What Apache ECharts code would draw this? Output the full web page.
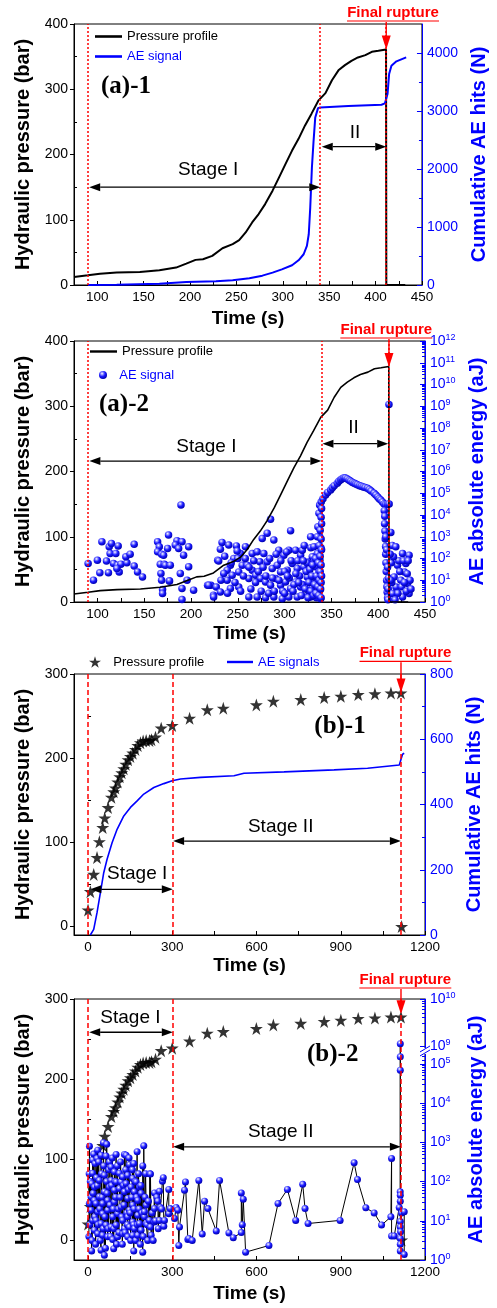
<!DOCTYPE html>
<html><head><meta charset="utf-8">
<script src="https://cdn.jsdelivr.net/npm/echarts@6/dist/echarts.min.js"></script>
<style>html,body{margin:0;padding:0;background:#fff}#c{width:497px;height:1308px}</style>
</head><body><div id="c"></div><script>
// ---------- DATA ----------
// (a) pressure profile [time s, bar]
const pressureA = [[75,12.3],[90,14.9],[103,17.4],[121,19],[146,20],[167,22.6],[185,26.7],[196,32.8],[206,38.5],[214,39.5],[224,44.6],[235,56.4],[246,62.6],[253,68.7],[260,80.5],[267,95.9],[274,108.7],[281,124],[289,144.6],[296,165],[303,185.6],[310,206],[317,224],[324,244.6],[331,262.6],[338.6,283],[346,294],[353,313.8],[360,329],[367,337],[374,343.6],[381,348.7],[389,352.3],[396,357.4],[403,359],[411.3,361],[411.6,0],[432,0]];
// (a)-1 cumulative AE hits [time s, N]
const aeHitsA = [[90,0],[121,6],[167,23],[196,52],[228,63],[246,80],[264,115],[278,161],[289,213],[299,270],[310,340],[317,426],[322.5,530],[326,673],[328,875],[329.6,1335],[331.4,2026],[333.2,2486],[335,2889],[338,3050],[340.4,3062],[370.7,3085],[406.4,3108],[410,3131],[412.9,3292],[414.6,3637],[417.1,3781],[422.5,3856],[433,3925]];
// (a)-2 AE absolute energy [time s, log10(aJ)]
const aeEnergyA = [[90.1,1.77],[95.8,1.00],[100,1.92],[102.6,1.34],[104.8,2.77],[109.7,1.88],[111.8,1.34],[112.6,2.54],[115,2.69],[113.6,2.23],[119.7,2.23],[117.2,1.77],[122.2,2.58],[121.5,1.69],[125.1,1.74],[123.3,1.38],[120.8,1.54],[131.5,1.80],[130.4,2.08],[135,2.20],[139.3,2.65],[139.3,1.65],[142.9,1.38],[148.2,1.15],[164.3,2.77],[166.1,2.54],[164.3,2.31],[168.6,2.19],[167.2,1.73],[171.5,1.73],[167.9,1.31],[168.6,1.00],[169.6,0.57],[169.6,0.39],[176,3.08],[175,2.46],[176.8,0.97],
[189.3,4.46],[185,2.82],[190.4,2.77],[183.2,2.62],[186.8,2.46],[192.1,2.15],[197.5,2.54],[170.7,2.15],[172.5,1.69],[177.9,1.69],[188.6,1.31],[197.5,1.62],[195.8,1.00],[190.4,0.62],[202.8,0.54],[177.1,0.97],[190.4,0.11],[217.7,0.77],[221.3,0.77],[224,0.31],[227,0.69],[228.5,1.92],
[233.2,2.74],[231.4,2.43],[240.3,2.62],[248.5,2.58],[258.2,2.54],[252.8,2.23],[249.3,2.35],[229.6,1.89],[245.7,2.00],[242.1,1.69],[238.6,1.46],[235,1.31],[238.6,1.00],[244,1.23],[251,1.38],[254.7,1.69],[260,1.69],[265.4,1.46],[261.8,1.08],[251,0.69],[242.1,0.62],[231.4,0.46],[224.2,0.23],[218.9,0.77],[265.4,2.23],[270.7,2.31],[277.8,2.23],[276.1,2.92],[281.4,3.16],[285,3.80],[288.5,2.85],[293.8,2.38],[299.2,2.15],[304.5,2.38],[306.4,3.28],[311.7,2.38],[317.1,2.15],[318.9,2.38],[327.8,3.00],[273.5,1.85],[281.4,1.85],[286.8,1.54],[292.1,1.69],[295.7,1.38],[302.8,1.46],[308.2,1.77],[313.5,1.54],[268.9,1.23],[274.3,1.08],[279.6,0.92],[285,0.77],[290.3,1.08],[295.7,0.77],[301,0.92],[306.4,0.62],[311.7,0.92],[317.1,0.69],[261.8,0.23],[270.7,0.23],[279.6,0.20],[288.5,0.23],[297.5,0.15],[304.5,0.23],[313.5,0.23],[322.4,0.38],[324.2,1.15],[320.6,1.62],[326,1.85],[329.6,2.08],
[232,1.0],[236,2.1],[239,0.4],[243,1.8],[247,0.9],[250,2.0],[253,0.5],[256,1.2],[258,2.0],[262,1.6],[264,0.6],[267,1.9],[269,0.9],[272,1.4],[275,0.5],[277,1.6],[280,1.2],[283,0.4],[284,2.0],[287,1.1],[289,0.5],[291,2.2],[294,1.0],[296,1.9],[298,0.5],[300,1.4],[302,2.3],[305,1.1],[307,1.9],[310,0.8],[314,1.9],[316,1.2],[319,0.8],[321,2.6],[324,1.8],[326,0.5],[328,2.5],[330,1.0],[332,1.9],[334,0.2],[336,1.1],[337.5,3.0],[338.8,2.5],
[331.3,2.54],[333.1,1.62],[334.2,0.85],[335,3.00],[335.6,3.46],[336.7,4.08],[337.4,4.46],[337.7,1.92],[337.7,0.54],[338.5,0.15],[329.6,0.69],[327.8,0.23],[331.3,1.15],[335,2.23],[336.7,1.38],
[300,0.4],[303,1.2],[309,0.5],[312,1.3],[315,0.9],[318,0.3],[320,1.9],[322,0.6],[323,1.4],[325,0.2],[326,0.9],[327,1.5],[328,0.5],[329,1.2],[330,1.7],[331,0.3],[332,0.8],[333,2.0],[333.5,0.4],[334,1.2],[335.5,0.7],[336,1.8],[336.5,0.3],[337,2.6],[337,1.0],[338,3.3],[338,2.1],[338,1.4],[338.5,0.6],[339,3.9],[339,2.9],[339,1.7],[339,0.9],[339,0.2],[339.5,4.3],[339.5,3.6],[339.5,2.4],[339.5,1.2],
[339.2,4.61],[341,4.75],[343.8,4.92],[346,5.04],[349.2,5.15],[351,5.25],[353,5.35],[356.3,5.46],[358,5.55],[360,5.62],[361.5,5.67],[363.4,5.71],[365,5.70],[367,5.66],[369,5.60],[370.6,5.55],[372.5,5.50],[374.5,5.46],[376,5.42],[377.8,5.39],[380,5.35],[382,5.32],[384,5.29],[386,5.26],[388.5,5.23],[390.5,5.17],[392.5,5.10],[395.6,5.00],[397.5,4.92],[399.5,4.83],[401,4.75],[402.7,4.69],[404.5,4.60],[406.3,4.51],[408,4.48],[410,4.49],[411.7,4.51],[411.5,9.08],
[406.5,4.2],[407,3.94],[406.8,3.6],[407.2,3.26],[407.5,2.9],[407.9,2.55],[408,2.2],[408.3,1.8],[408.6,1.4],[409,0.99],[409.3,0.7],[409.6,0.45],[410,0.2],[410.5,0.1],[408,3.0],[409,2.4],[410,1.6],[411,1.1],[410.7,0.6],
[415,2.6],[418.8,2.54],[426,2.23],[433,2.15],[420.6,1.69],[429.5,1.77],[417,1.15],[424.2,1.0],[431.4,0.85],[415.3,0.39],[426,0.23],[433,0.39],[419,0.69],[428,1.38],[422,1.9],[414,1.8],[414.5,0.9],[421,0.4],[423,1.4],[425,0.7],[427,1.9],[430,0.5],[431,1.3],[432,1.9],[434,1.0],[418,0.1],[435,0.6],[416.3,2.08],[428,0.9],[412.8,2.2],[413.2,1.0],[413.5,3.2]];
// (b) pressure profile [time s, bar]
const pressureB = [[0,19.7],[8.3,41.5],[20.2,62],[32,82],[40.4,100.7],[52.3,117.6],[59.5,129],[71.4,141.3],[83.3,153.6],[91.6,160],[97.5,164.6],[105.8,171.7],[113,178],[120,182.8],[127.3,187.5],[134.4,192.7],[142.7,198.2],[151,202],[159.4,206],[168.9,210.4],[177.2,215],[186.7,218.3],[196.2,220.3],[207,221],[218.8,221],[226,222],[240.2,225],[260.5,235.7],[299.7,238.8],[361.6,247.5],[424.6,257.4],[481.7,259.4],[599.4,263.3],[660,267.7],[757.6,269.6],[840.9,272],[900.3,273.6],[962.2,275.6],[1021.6,276.4],[1078.7,277.5],[1114.4,277.5],[1116.8,0]];
// (b)-1 cumulative AE hits [time s, N]
const aeHitsB = [[8.3,0],[20.2,17],[32,68.5],[44,130],[55.9,191],[67.8,232],[85.6,283],[103.5,324],[127.3,365],[151,391],[174.8,411],[198.6,432],[234.3,452],[270,464],[299.7,472.6],[329.4,478],[400.8,483],[519.7,488],[555.4,496],[698,500],[876.5,506],[995.5,511],[1108.5,521],[1114.4,524],[1120,554],[1126,557]];
// (b)-2 AE absolute energy [time s, log10(aJ)]
const aeEnergyB = [[198.5,2.91],[174.8,2.76],[66.5,2.95],[54.6,2.99],[34.4,2.80],[100,2.69],[129.5,2.69],[135.5,2.67],[147.3,2.43],[162.8,2.46],[236.5,1.71],[254.4,1.75],[248.4,1.50],[258,1.34],[236.5,1.31],[272.2,1.01],[254.4,1.01],[269.8,0.86],[236.5,0.97],[218.7,1.01],[222.3,0.84],[224.8,0.63],[212.6,0.50],[194.8,0.20],[162.8,0.23],[91.4,0.29],[58.2,0.12],[46.4,0.25],[12.8,0.23],[200.9,1.10],[200.9,1.23],[206.9,1.40],[206.9,0.93],[189,0.76],[177,0.63],[159,0.63],[141.3,0.59],[123.4,0.67],[105.6,0.59],[87.8,0.52],[70,0.59],[52,0.63],[34.4,0.67],[22.5,0.76],[16.4,1.01],[10.7,1.27],[10.7,1.61],[12.8,1.95],[16.4,2.21],[25,2.46],[32,2.59],[46.4,2.67],[64.2,2.65],[76,2.50],[82,2.37],[93.8,2.25],[111.7,2.21],[123.4,2.12],[141.3,2.16],[159,2.08],[171.2,1.99],[183,1.86],[189,1.70],[177,1.52],[159,1.40],[141.3,1.57],[129.5,1.74],[111.7,1.82],[93.8,1.78],[76,1.86],[58.2,1.74],[40.3,1.61],[28.5,1.44],[34.4,1.23],[52,1.18],[70,1.27],[87.8,1.10],[105.6,1.18],[123.4,1.01],[141.3,1.10],[159,0.97],[177,1.14],[183,0.93],[165.2,0.80],[147.3,0.84],[129.5,0.80],[100,0.89],[82,0.84],[64.2,0.89],[46.4,0.93],[28.5,1.01],[40.3,2.03],[58.2,2.16],[82,2.03],[100,1.99],[117.7,1.99],[135.5,1.95],[153.4,1.86],[165.2,1.74],[147.3,1.27],[117.7,1.35],[93.8,1.48],[70,1.52],[52,1.44],[22.5,1.86],[22.5,1.52],[4.6,1.44],[16.4,2.55],
[6,0.9],[8,2.0],[14,0.5],[18,1.7],[20,2.7],[24,1.1],[27,0.4],[30,2.1],[33,1.9],[36,0.9],[38,2.5],[42,1.3],[44,0.5],[48,2.2],[50,1.6],[54,0.8],[56,2.4],[60,1.1],[62,0.3],[66,2.0],[68,1.7],[72,0.8],[74,2.3],[78,1.4],[80,0.6],[84,1.9],[86,2.6],[90,1.3],[92,0.8],[96,2.0],[98,1.6],[102,0.4],[104,2.4],[108,1.3],[110,0.7],[114,1.6],[116,2.5],[120,1.1],[122,0.4],[126,1.9],[128,1.4],[132,0.7],[134,2.3],[138,1.2],[140,0.9],[144,1.8],[146,2.6],[150,1.2],[152,0.5],[156,1.6],[158,2.3],[162,0.9],[164,1.3],[168,2.0],[170,0.5],[173,1.6],[176,0.9],[180,2.2],[182,1.3],[186,0.4],[188,1.9],[192,1.2],[195,2.4],[197,0.6],[203,1.6],[205,2.2],[210,0.9],[215,1.5],[220,2.2],[228,1.2],[232,0.5],[240,1.0],[245,1.6],[250,0.8],[262,1.3],[268,2.1],[3,0.6],[4,2.2],[5,2.9],
[287.6,1.80],[313.9,1.34],[319.7,1.27],[325.7,0.84],[323.3,0.37],[343.6,1.78],[347,1.99],[355.4,0.52],[358.7,0.55],[292.5,1.31],[287.6,1.18],[308,1.06],[265,2.01],[222.3,2.19],
[371,0.50],[394.6,2.03],[406.7,0.66],[415,1.50],[426.8,1.31],[456.6,0.74],[468.4,2.03],[501.7,0.69],[517.3,0.57],[545.8,0.70],[545.8,1.71],[549.3,0.90],[552.8,1.55],[561.2,0.20],[644.3,0.37],[676.6,1.44],[710,1.80],[739.6,1.01],[764.5,1.93],[772.8,1.31],[783.6,0.93],[897.7,1.01],[947.6,2.48],[959.6,2.05],[989.3,1.33],[1019,1.20],[1045.3,0.89],[1078.5,1.10],[1081,2.59],[1081,0.61],[1090.4,0.61],[1108.2,1.34],[1111.7,1.74],[1112,1.65],[1112,9.05],[1112,5.18],[1112,4.84],[1112,1.5],[1112,0.98],[1112,0.84],[1113,0.72],[1112,0.55],[1112,0.4],[1112,0.23],[1116.6,1.20],[1126,1.23],[1126,0.14]];
// tick labels
const timeTicksA = [100,150,200,250,300,350,400,450];
const timeTicksB = [0,300,600,900,1200];
const pressTicksA = [0,100,200,300,400];
const pressTicksB = [0,100,200,300];
const hitsTicksA = [0,1000,2000,3000,4000];
const hitsTicksB = [0,200,400,600,800];
const energyExpA = [0,1,2,3,4,5,6,7,8,9,10,11,12];
const energyExpB = [0,1,2,3,4,5,9,10];

// ---------- STYLE / HELPERS ----------
const FF = '"Liberation Sans", Arial, sans-serif';
const BLUE = '#0000ff', RED = '#ff0000';
const STAR = 'path://M50,0 L61.2,34.5 L97.6,34.5 L68.2,55.9 L79.4,90.5 L50,69.1 L20.6,90.5 L31.8,55.9 L2.4,34.5 L38.8,34.5 Z';
const LINEICON = 'path://M0,0 L100,0 L100,10 L0,10 Z';
const BALL = {type:'radial', x:0.38, y:0.32, r:0.68, colorStops:[{offset:0,color:'#ffffff'},{offset:0.22,color:'#9a9aff'},{offset:0.55,color:'#1a1aff'},{offset:1,color:'#0000b0'}]};
// broken log axis of (b)-2: lower segment 10^0..10^5, upper segment from 10^9
const brk = e => e <= 5.25 ? e : 5.455 + 1.2 * (e - 9);
const unbrk = u => u <= 5.3 ? Math.round(u) : Math.round(9 + (u - 5.455) / 1.2);
const logMinor = (n0, n1, f) => { const r = []; for (let n = n0; n < n1; n++) for (let k = 2; k <= 9; k++) r.push(f(n + Math.log10(k))); return r; };
const range = (a, b, s) => { const r = []; for (let v = a; v <= b + 1e-9; v += s) r.push(v); return r; };
const plain = v => String(Math.round(v));

const GRIDS = [24, 341, 674, 999].map(t => ({left:74, width:351, top:t, height:261, show:true, borderColor:'#000', borderWidth:1, backgroundColor:'transparent'}));

function mkX(gi, min, max, labels, ticks, nameGap) {
  return {type:'value', gridIndex:gi, min, max, name:'Time (s)', nameLocation:'middle', nameGap,
    nameTextStyle:{fontSize:19, fontWeight:'bold', color:'#000', fontFamily:FF},
    axisLine:{show:true, onZero:false, lineStyle:{color:'#000', width:1}},
    axisTick:{show:true, inside:true, length:4, customValues:ticks, lineStyle:{color:'#000'}},
    axisLabel:{show:true, customValues:labels, margin:5, fontSize:13.5, color:'#000', fontFamily:FF, formatter:plain},
    splitLine:{show:false}};
}
function mkY(gi, pos, min, max, o) {
  const col = pos === 'right' ? BLUE : '#000';
  const main = {type:'value', gridIndex:gi, position:pos, min, max,
    name:o.name, nameLocation:'middle', nameGap:o.nameGap, nameRotate:90,
    nameTextStyle:{fontSize:20, fontWeight:'bold', color:col, fontFamily:FF},
    axisLine:{show:true, onZero:false, lineStyle:{color:col, width:1}},
    axisTick:{show:true, inside:pos === 'right', length:pos === 'right' ? 5 : 4, customValues:o.major, lineStyle:{color:col}},
    axisLabel:{show:true, customValues:o.labels, margin:o.margin, color:col, fontSize:14, fontFamily:FF, formatter:o.fmt || plain, rich:o.rich},
    splitLine:{show:false}};
  const minor = {type:'value', gridIndex:gi, position:pos, min, max,
    axisLine:{show:false}, axisLabel:{show:false}, splitLine:{show:false},
    axisTick:{show:true, inside:true, length:3, customValues:o.minor, lineStyle:{color:col}}};
  return [main, minor];
}
const RICH = {b:{fontSize:14, color:BLUE, fontFamily:FF}, s:{fontSize:9, color:BLUE, fontFamily:FF, padding:[0,0,7,0]}};

const yAxes = [].concat(
  mkY(0,'left',0,400,{name:'Hydraulic pressure (bar)', nameGap:34, labels:pressTicksA, major:pressTicksA, minor:[50,150,250,350], margin:6}),
  mkY(0,'right',0,4500,{name:'Cumulative AE hits (N)', nameGap:45, labels:hitsTicksA, major:hitsTicksA, minor:[500,1500,2500,3500], margin:5}),
  mkY(1,'left',0,400,{name:'Hydraulic pressure (bar)', nameGap:34, labels:pressTicksA, major:pressTicksA, minor:[50,150,250,350], margin:6}),
  mkY(1,'right',0,12,{name:'AE absolute energy (aJ)', nameGap:42, labels:energyExpA, major:energyExpA, minor:logMinor(0,12,v=>v), margin:5,
      fmt:v => '{b|10}{s|' + Math.round(v) + '}', rich:RICH}),
  mkY(2,'left',-10,300,{name:'Hydraulic pressure (bar)', nameGap:34, labels:pressTicksB, major:pressTicksB, minor:[50,150,250], margin:6}),
  mkY(2,'right',0,800,{name:'Cumulative AE hits (N)', nameGap:38, labels:hitsTicksB, major:hitsTicksB, minor:[100,300,500,700], margin:5}),
  mkY(3,'left',-25,300,{name:'Hydraulic pressure (bar)', nameGap:34, labels:pressTicksB, major:pressTicksB, minor:[50,150,250], margin:6}),
  mkY(3,'right',0,brk(10),{name:'AE absolute energy (aJ)', nameGap:35, labels:energyExpB.map(brk), major:energyExpB.map(brk),
      minor:logMinor(0,5,v=>v).concat([5.1,5.2]).concat(logMinor(9,10,brk)), margin:5,
      fmt:v => '{b|10}{s|' + unbrk(v) + '}', rich:RICH})
);

const xAxes = [
  mkX(0,75,450,timeTicksA,range(75,450,25),24),
  mkX(1,75,450,timeTicksA,range(75,450,25),22),
  mkX(2,-50,1200,timeTicksB,range(0,1200,150),21),
  mkX(3,-50,1200,timeTicksB,range(0,1200,150),24)
];

const vlines = (vals, type) => ({silent:true, symbol:['none','none'], animation:false, label:{show:false},
  lineStyle:{color:RED, width:1.5, type: type}, data: vals.map(v => ({xAxis:v}))});

const series = [
  {name:'pA1', type:'line', xAxisIndex:0, yAxisIndex:0, data:pressureA, symbol:'none', lineStyle:{color:'#000', width:2}, itemStyle:{color:'#000'},
   markLine: vlines([90,340,411.5],[2,2])},
  {name:'aeA1', type:'line', xAxisIndex:0, yAxisIndex:2, data:aeHitsA, symbol:'none', lineStyle:{color:BLUE, width:2}, itemStyle:{color:BLUE}},
  {name:'pA2', type:'line', xAxisIndex:1, yAxisIndex:4, data:pressureA, symbol:'none', lineStyle:{color:'#000', width:1.6}, itemStyle:{color:'#000'},
   markLine: vlines([90,339.5,411.5],[2,2])},
  {name:'aeA2', type:'scatter', xAxisIndex:1, yAxisIndex:6, data:aeEnergyA, symbol:'circle', symbolSize:7.5, itemStyle:{color:BALL, opacity:1}},
  {name:'aeB1', type:'line', xAxisIndex:2, yAxisIndex:10, data:aeHitsB, symbol:'none', lineStyle:{color:BLUE, width:1.6}, itemStyle:{color:BLUE}},
  {name:'pB1', type:'scatter', xAxisIndex:2, yAxisIndex:8, data:pressureB, symbol:STAR, symbolSize:13, itemStyle:{color:'#000'},
   markLine: vlines([0,300,1114.5],[5,3])},
  {name:'pB2', type:'scatter', xAxisIndex:3, yAxisIndex:12, data:pressureB, symbol:STAR, symbolSize:13, itemStyle:{color:'#000'},
   markLine: vlines([0,300,1114.5],[5,3])},
  {name:'aeB2', type:'line', xAxisIndex:3, yAxisIndex:14, data:aeEnergyB.slice().sort((a,b)=>a[0]-b[0]).map(d => [d[0], brk(d[1])]),
   symbol:'circle', symbolSize:7, showAllSymbol:true, lineStyle:{color:'#000', width:1}, itemStyle:{color:BALL, borderWidth:0}}
];

const LNAMES = {pA1:'Pressure profile', aeA1:'AE signal', pA2:'Pressure profile', aeA2:'  AE signal', pB1:'  Pressure profile', aeB1:'AE signals'};
const leg = (name, left, top, w, h, color, icon) => ({show:true, selectedMode:false, orient:'vertical', left, top, itemWidth:w, itemHeight:h, padding:0,
  symbolKeepAspect: !icon, formatter: n => LNAMES[n], data:[Object.assign({name, textStyle:{color}}, icon ? {icon} : {})],
  textStyle:{fontSize:13, fontFamily:FF, color}});
const legends = [
  leg('pA1', 95, 30, 27, 2.6, '#000', LINEICON), leg('aeA1', 95, 50, 27, 2.6, BLUE, LINEICON),
  leg('pA2', 90, 345, 27, 2.4, '#000', LINEICON), leg('aeA2', 99, 368.5, 8, 8, BLUE),
  leg('pB1', 89, 655.5, 12, 12, '#000'), leg('aeB1', 227, 655.5, 26, 2.4, BLUE, LINEICON)
];

const chart = echarts.init(document.getElementById('c'), null, {renderer:'canvas'});
chart.setOption({animation:false, backgroundColor:'#fff', grid:GRIDS, xAxis:xAxes, yAxis:yAxes, legend:legends, series});

// ---------- ANNOTATIONS ----------
const PSER = [0, 2, 5, 6];
const px = (g, t, p) => chart.convertToPixel({seriesIndex:PSER[g]}, [t, p]);
const G = [];
function dblArrow(g, t1, t2, p) {
  const a = px(g, t1, p), b = px(g, t2, p), y = a[1], L = 11, W = 4;
  G.push({type:'line', shape:{x1:a[0]+L, y1:y, x2:b[0]-L, y2:y}, style:{stroke:'#000', lineWidth:1.3}, z:50});
  G.push({type:'polygon', shape:{points:[[a[0],y],[a[0]+L,y-W],[a[0]+L,y+W]]}, style:{fill:'#000'}, z:50});
  G.push({type:'polygon', shape:{points:[[b[0],y],[b[0]-L,y-W],[b[0]-L,y+W]]}, style:{fill:'#000'}, z:50});
}
function txt(g, t, p, s, font) {
  const a = px(g, t, p);
  G.push({type:'text', x:a[0], y:a[1], style:{text:s, font, fill:'#000', align:'center', verticalAlign:'middle'}, z:50});
}
function ptxt(x, y, s, font, fill) {
  G.push({type:'text', x, y, style:{text:s, font, fill:fill||'#000', align:'center', verticalAlign:'middle'}, z:50});
}
function rupture(g, lx, ly, t, p) {
  ptxt(lx, ly, 'Final rupture', 'bold 15px ' + FF, RED);
  G.push({type:'line', shape:{x1:lx-46, y1:ly+8, x2:lx+46, y2:ly+8}, style:{stroke:RED, lineWidth:1.2}, z:50});
  const a = px(g, t, p), x = a[0], tip = a[1];
  G.push({type:'line', shape:{x1:x, y1:ly+9, x2:x, y2:tip-13}, style:{stroke:RED, lineWidth:1.4}, z:51});
  G.push({type:'polygon', shape:{points:[[x,tip],[x-4.5,tip-14],[x+4.5,tip-14]]}, style:{fill:RED}, z:51});
}
const F19 = '19px ' + FF, FSER = 'bold 25px "Liberation Serif", "Times New Roman", serif';
// (a)-1
dblArrow(0, 91.4, 340.4, 150); dblArrow(0, 342, 411.5, 212);
txt(0, 219.6, 176, 'Stage I', F19); txt(0, 377.9, 234, 'II', F19);
ptxt(126, 87, '(a)-1', FSER);
rupture(0, 393, 13, 411.5, 361);
// (a)-2
dblArrow(1, 91.4, 339.3, 216); dblArrow(1, 340.4, 410.7, 242.6);
txt(1, 216.4, 237.5, 'Stage I', F19); txt(1, 373.6, 267, 'II', F19);
ptxt(124, 405, '(a)-2', FSER);
rupture(1, 386.3, 330, 411.5, 360);
// (b)-1
dblArrow(2, 8, 302, 44.2); dblArrow(2, 303, 1114, 101.5);
txt(2, 175, 63, 'Stage I', F19); txt(2, 686, 118.4, 'Stage II', F19);
ptxt(340, 727, '(b)-1', FSER);
rupture(2, 405.5, 653.3, 1114.5, 278);
// (b)-2
dblArrow(3, 4, 302, 258.6); dblArrow(3, 303, 1114, 115.9);
txt(3, 151, 277, 'Stage I', F19); txt(3, 686, 135.3, 'Stage II', F19);
ptxt(332.7, 1055, '(b)-2', FSER);
rupture(3, 405.3, 980, 1114.5, 281);
// axis break marks on (b)-2 right axis
(function(){
  const a = chart.convertToPixel({seriesIndex:7}, [1200, 5.33]);
  const x = a[0], y = a[1];
  G.push({type:'rect', shape:{x:x-2, y:y-3, width:4, height:6}, style:{fill:'#fff'}, z:60});
  G.push({type:'line', shape:{x1:x-5, y1:y+1, x2:x+5, y2:y-5}, style:{stroke:BLUE, lineWidth:1}, z:61});
  G.push({type:'line', shape:{x1:x-5, y1:y+5, x2:x+5, y2:y-1}, style:{stroke:BLUE, lineWidth:1}, z:61});
})();
chart.setOption({graphic:G});
</script></body></html>
